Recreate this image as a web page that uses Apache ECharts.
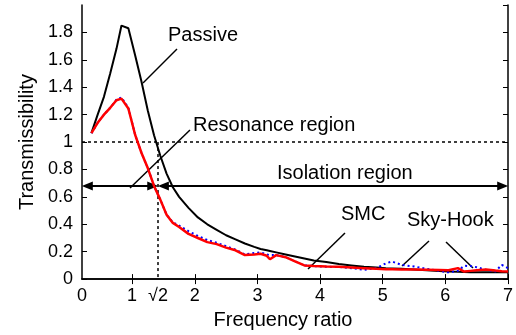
<!DOCTYPE html>
<html>
<head>
<meta charset="utf-8">
<script src="https://cdn.jsdelivr.net/npm/echarts@6/dist/echarts.min.js"></script>
<style>
  html, body { margin: 0; padding: 0; background: #fff; }
  #main { width: 516px; height: 335px; }
</style>
</head>
<body>
<div id="main"></div>
<script>
// frequency ratio (shared x for all three curves)
var freq = [0.35, 0.45, 0.55, 0.65, 0.75, 0.83, 0.94, 1.05, 1.15, 1.25, 1.35, 1.45, 1.55, 1.65, 1.75,
  1.9, 2.05, 2.2, 2.35, 2.5, 2.65, 2.8, 2.95, 3.05, 3.15, 3.2, 3.3, 3.45, 3.6, 3.75, 3.9,
  4.1, 4.3, 4.5, 4.7, 4.9, 5.05, 5.15, 5.3, 5.5, 5.7, 5.9, 6.05, 6.2, 6.3, 6.4, 6.5, 6.65, 6.8, 6.9, 7.0];

var passive = [1.065, 1.2, 1.33, 1.5, 1.68, 1.85, 1.83, 1.63, 1.44, 1.23, 1.05, 0.9, 0.77, 0.67, 0.6,
  0.52, 0.45, 0.4, 0.36, 0.32, 0.29, 0.26, 0.235, 0.22, 0.21, 0.205, 0.195, 0.18, 0.165, 0.15, 0.135,
  0.125, 0.11, 0.1, 0.09, 0.085, 0.08, 0.078, 0.075, 0.07, 0.065, 0.06, 0.056, 0.053, 0.052, 0.05, 0.05, 0.05, 0.05, 0.05, 0.05];

var smc = [1.065, 1.14, 1.2, 1.25, 1.305, 1.317, 1.245, 1.05, 0.92, 0.81, 0.68, 0.58, 0.47, 0.41, 0.38,
  0.33, 0.3, 0.27, 0.255, 0.23, 0.21, 0.175, 0.18, 0.185, 0.17, 0.145, 0.175, 0.16, 0.13, 0.1, 0.095,
  0.092, 0.09, 0.085, 0.08, 0.075, 0.072, 0.072, 0.07, 0.07, 0.068, 0.066, 0.064, 0.08, 0.055, 0.06, 0.065, 0.07, 0.062, 0.058, 0.056];

var skyHook = [1.065, 1.14, 1.2, 1.25, 1.31, 1.325, 1.25, 1.05, 0.92, 0.81, 0.68, 0.58, 0.47, 0.415, 0.39,
  0.35, 0.315, 0.285, 0.265, 0.24, 0.215, 0.18, 0.19, 0.195, 0.18, 0.175, 0.175, 0.16, 0.13, 0.1, 0.095,
  0.09, 0.088, 0.08, 0.068, 0.08, 0.115, 0.128, 0.104, 0.092, 0.075, 0.06, 0.049, 0.06, 0.097, 0.095, 0.087, 0.068, 0.056, 0.104, 0.08];

var xTicks = [1, 2, 3, 4, 5, 6, 7];
var xLabels = [0.2, 1, Math.SQRT2, 2, 3, 4, 5, 6, 7];

var pair = function (ys) {
  var res = [];
  for (var i = 0; i < freq.length; i++) res.push([freq[i], ys[i]]);
  return res;
};

var chart = echarts.init(document.getElementById('main'), null, { renderer: 'canvas' });
var font = "'Liberation Sans', Arial, sans-serif";
var ah = 0.085; // half arrowhead length in x units, so tips land on the ends

var option = {
  backgroundColor: '#fff',
  animation: false,
  textStyle: { fontFamily: font },
  grid: { left: 82, right: 2, top: 5, bottom: 52 },
  xAxis: [
    {
      type: 'value', min: 0.2, max: 7,
      name: 'Frequency ratio', nameLocation: 'middle', nameGap: 30,
      nameTextStyle: { fontSize: 20, color: '#000', fontFamily: font, padding: [0, 24, 0, 0] },
      axisLine: { lineStyle: { color: '#000', width: 1.5 } },
      axisTick: { inside: true, length: 5, customValues: xTicks, lineStyle: { color: '#000' } },
      axisLabel: {
        customValues: xLabels, margin: 8, fontSize: 18, color: '#000', fontFamily: font,
        formatter: function (v) {
          if (v < 0.5) return '0';
          if (Math.abs(v - Math.SQRT2) < 1e-6) return '√2';
          return String(Math.round(v));
        }
      },
      splitLine: { show: false }
    },
    {
      type: 'value', min: 0.2, max: 7, position: 'top',
      axisLine: { lineStyle: { color: '#000', width: 1.5 } },
      axisTick: { inside: true, length: 5, customValues: xTicks, lineStyle: { color: '#000' } },
      axisLabel: { show: false },
      splitLine: { show: false }
    }
  ],
  yAxis: [
    {
      type: 'value', min: 0, max: 2, interval: 0.2,
      name: 'Transmissibility', nameLocation: 'middle', nameGap: 44,
      nameTextStyle: { fontSize: 20, color: '#000', fontFamily: font },
      axisLine: { show: true, lineStyle: { color: '#000', width: 1.5 } },
      axisTick: { show: true, inside: true, length: 5, lineStyle: { color: '#000' } },
      axisLabel: { showMaxLabel: false, margin: 9, fontSize: 18, color: '#000', fontFamily: font },
      splitLine: { show: false }
    },
    {
      type: 'value', min: 0, max: 2, interval: 0.2, position: 'right',
      axisLine: { show: true, lineStyle: { color: '#000', width: 1.5 } },
      axisTick: { show: true, inside: true, length: 5, lineStyle: { color: '#000' } },
      axisLabel: { show: false },
      splitLine: { show: false }
    }
  ],
  series: [
    {
      name: 'Passive', type: 'line', data: pair(passive), symbol: 'none',
      lineStyle: { color: '#000', width: 2 }, z: 3,
      markLine: {
        silent: true, symbol: 'none', label: { show: false },
        lineStyle: { color: '#000', type: [3, 3], width: 1.5 },
        data: [
          [{ coord: [0.2, 1] }, { coord: [7, 1] }],
          [{ coord: [Math.SQRT2, 1] }, { coord: [Math.SQRT2, 0] }]
        ]
      }
    },
    {
      name: 'Sky-Hook', type: 'line', data: pair(skyHook), symbol: 'none',
      lineStyle: { color: '#0000ff', width: 2, type: [2, 3] }, z: 4
    },
    {
      name: 'SMC', type: 'line', data: pair(smc), symbol: 'none',
      lineStyle: { color: '#ff0000', width: 2.5 }, z: 5,
      markLine: {
        silent: true, symbol: ['triangle', 'triangle'], symbolSize: [9, 11],
        label: { show: false },
        lineStyle: { color: '#000', type: 'solid', width: 2 },
        itemStyle: { color: '#000' },
        data: [
          [{ coord: [0.2 + ah, 0.68] }, { coord: [Math.SQRT2 - ah, 0.68] }],
          [{ coord: [Math.SQRT2 + ah, 0.68] }, { coord: [7 - ah, 0.68] }]
        ]
      }
    }
  ],
  graphic: [
    { type: 'text', left: 168, top: 25, style: { text: 'Passive', font: '20px ' + font, fill: '#000' } },
    { type: 'line', shape: { x1: 177, y1: 49, x2: 143, y2: 83 }, style: { stroke: '#000', lineWidth: 1.5 } },
    { type: 'text', left: 193, top: 115, style: { text: 'Resonance region', font: '20px ' + font, fill: '#000' } },
    { type: 'line', shape: { x1: 190, y1: 130, x2: 130, y2: 188 }, style: { stroke: '#000', lineWidth: 1.5 } },
    { type: 'text', left: 277, top: 163, style: { text: 'Isolation region', font: '20px ' + font, fill: '#000' } },
    { type: 'text', left: 341, top: 204, style: { text: 'SMC', font: '20px ' + font, fill: '#000' } },
    { type: 'line', shape: { x1: 345, y1: 233, x2: 308, y2: 269 }, style: { stroke: '#000', lineWidth: 1.5 } },
    { type: 'text', left: 407, top: 210, style: { text: 'Sky-Hook', font: '20px ' + font, fill: '#000' } },
    { type: 'line', shape: { x1: 429, y1: 241, x2: 402, y2: 266 }, style: { stroke: '#000', lineWidth: 1.5 } },
    { type: 'line', shape: { x1: 446, y1: 242, x2: 473, y2: 268 }, style: { stroke: '#000', lineWidth: 1.5 } }
  ]
};

chart.setOption(option);
</script>
</body>
</html>
